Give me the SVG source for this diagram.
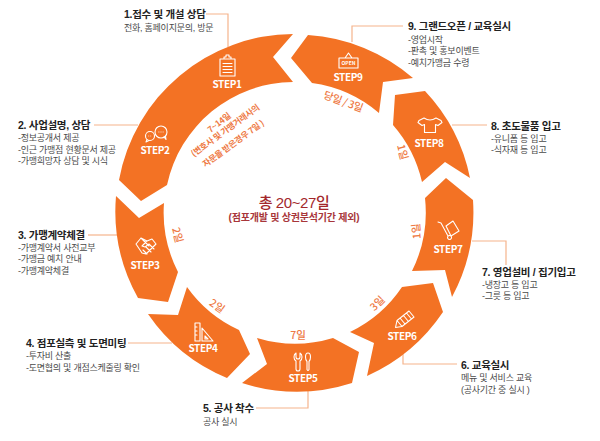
<svg xmlns="http://www.w3.org/2000/svg" width="600" height="441" viewBox="0 0 600 441">
<style>
text{font-family:"Noto Sans CJK KR","Noto Sans",sans-serif}
.seg{fill:#f37224}
.lead{fill:none;stroke:#f6b48c;stroke-width:1.2}
.t{font-family:"Liberation Sans","Noto Sans CJK KR",sans-serif;font-size:10.500px;font-weight:700;fill:#222;letter-spacing:-.3px}
.s{font-family:"Liberation Sans","Noto Sans CJK KR",sans-serif;font-size:9px;fill:#4a4a4a;letter-spacing:-.25px}
.st{font-size:10px;font-weight:700;fill:#fff;text-anchor:middle;letter-spacing:-.4px}
.d{font-size:10.500px;font-weight:500;fill:#ee7a45;text-anchor:middle}
.n{font-size:8.500px;font-weight:700;fill:#ee7a45;text-anchor:middle;letter-spacing:-.25px}
.i{fill:none;stroke:#fff;stroke-width:1.1;stroke-linejoin:round;stroke-linecap:round}
.c{font-family:"Liberation Sans","Noto Sans CJK KR",sans-serif;text-anchor:middle}
</style>
<rect width="600" height="441" fill="#fff"/>
<g id="connectors">
<path class="lead" d="M206 14H228V47"/>
<path class="lead" d="M403 26H352V42"/>
<path class="lead" d="M452 125H487"/>
<path class="lead" d="M472 241H506V265"/>
<path class="lead" d="M403 354V364H457"/>
<path class="lead" d="M308 391V408H256"/>
<path class="lead" d="M128 343H172"/>
<path class="lead" d="M88 235H117"/>
<path class="lead" d="M94 125H138"/>
</g>
<g id="node-step1-2">
<path class="seg" d="M293 34A178 178 0 0 0 119 180L141 201L167 185A130 130 0 0 1 293 82L273 57Z"/>
<g id="step1">
<path class="i" d="M220 59h15v17h-15zM224 59v-2h2v-2h3v2h2v2M223 63.500h9M223 66.500h9M223 69.500h9M223 72.500h9"/>
<text class="st" x="227" y="88">STEP1</text>
<text class="t" x="124" y="18">1.접수 및 개설 상담</text>
<text class="s" x="124" y="31">전화, 홈페이지문의, 방문</text>
</g>
<g id="step2">
<circle class="i" cx="150" cy="136" r="4.500"/>
<path class="i" d="M147 139.500l-1 2.500 3-1.500"/>
<circle class="i" cx="161" cy="132" r="6"/>
<path class="i" d="M164 137l2 2.500-.5-3.500"/>
<path d="M158.500 132h.8M160.600 132h.8M162.700 132h.8M148.500 136h.6M150.500 136h.6" stroke="#fff" stroke-width="1.200" fill="none"/>
<text class="st" x="155" y="154">STEP2</text>
<text class="t" x="18" y="129">2. 사업설명, 상담</text>
<text class="s" x="18" y="141">-정보공개서 제공</text>
<text class="s" x="18" y="153">-인근 가맹점 현황문서 제공</text>
<text class="s" x="18" y="164">-가맹희망자 상담 및 시식</text>
</g>
</g>
<g id="step3">
<path class="seg" d="M116 196A178 178 0 0 0 138 298L168 302L178 272A130 130 0 0 1 164 203L139 218Z"/>
<path class="i" d="M136 244l5-6 6 3 5-2 4 5-10 10-4-1-6-9zM141 238l8 8M147 241l-5 5 3 1 4-3 5 5M146 247l5 5M143 250l4 4"/>
<text class="st" x="145" y="269">STEP3</text>
<text class="t" x="18" y="239">3. 가맹계약체결</text>
<text class="s" x="18" y="251">-가맹계약서 사전교부</text>
<text class="s" x="18" y="262">-가맹금 예치 안내</text>
<text class="s" x="18" y="274">-가맹계약체결</text>
</g>
<g id="step4">
<path class="seg" d="M148 314L178 315L187 287A130 130 0 0 0 239 330L250 354L227 378A178 178 0 0 1 148 314Z"/>
<path class="i" d="M195 323h5v18h-5zM195 327h2M195 331h2M195 335h2M202 328l11 13h-11zM205 336v3h3z"/>
<text class="st" x="203" y="352">STEP4</text>
<text class="t" x="26" y="347">4. 점포실측 및 도면미팅</text>
<text class="s" x="26" y="359">-투자비 산출</text>
<text class="s" x="26" y="371">-도면협의 및 개점스케줄링 확인</text>
</g>
<g id="step5">
<path class="seg" d="M257 338A130 130 0 0 0 333 338L359 352L352 383A180 180 0 0 1 242 383L267 364Z"/>
<path class="i" d="M296 353v4q0 2 2 2 2 0 2-2v-4q2 1 2 4 0 3-2 4v8q0 2-2 2-2 0-2-2v-8q-2-1-2-4 0-3 2-4zM308 353q2.500 0 2.500 4 0 3-1.500 4.500v8q-1 2-2 0v-8q-1.500-1.500-1.500-4.500 0-4 2.500-4z"/>
<text class="st" x="303" y="382">STEP5</text>
<text class="t" x="203" y="412">5. 공사 착수</text>
<text class="s" x="203" y="425">공사 실시</text>
</g>
<g id="step6">
<path class="seg" d="M350 332L374 343L367 376A180 180 0 0 0 443 312L433 283L402 287A131 131 0 0 1 350 332Z"/>
<path class="i" d="M395.500 327.500l1.500-7 12-9.500 5 6-12 9.500zM397 320.500l5 6M400 318l5 6M403.500 315.500l5 6M406.500 313l5 6"/>
<text class="st" x="402" y="340">STEP6</text>
<text class="t" x="461" y="369">6. 교육실시</text>
<text class="s" x="461" y="381">메뉴 및 서비스 교육</text>
<text class="s" x="461" y="393">(공사기간 중 실시 )</text>
</g>
<g id="step7">
<path class="seg" d="M425 198L446 178L473 200A179 179 0 0 1 452 297L445 270L412 271A132 132 0 0 0 425 198Z"/>
<path class="i" d="M438 222l3 1 7 13M446 226l7-5 6 10-8 5zM449.500 235.500a2 2 0 1 0 .1 0"/>
<text class="st" x="448" y="253">STEP7</text>
<text class="t" x="482" y="276">7. 영업설비 / 집기입고</text>
<text class="s" x="482" y="288">-냉장고 등 입고</text>
<text class="s" x="482" y="299">-그릇 등 입고</text>
</g>
<g id="step8">
<path class="seg" d="M395 95L425 91A178 178 0 0 1 470 178L445 162L422 182A131 131 0 0 0 393 125Z"/>
<path class="i" d="M424 118l-5 2.500-1 2 4 3 2.500-1v8h11v-8l2.500 1 4-3-1-2-5-2.500q-6 4-12 0z"/>
<text class="st" x="429" y="147">STEP8</text>
<text class="t" x="491" y="130">8. 초도물품 입고</text>
<text class="s" x="491" y="142">-유니폼 등 입고</text>
<text class="s" x="491" y="153">-식자재 등 입고</text>
</g>
<g id="step9">
<path class="seg" d="M308 35A178 178 0 0 1 413 78L383 82L379 113A130 130 0 0 0 312 83L291 58Z"/>
<path class="i" d="M339 58h19v10h-19zM345 58l3.500-5 3.500 5"/>
<text x="348.500" y="65" font-size="5" font-weight="700" fill="#fff" text-anchor="middle">OPEN</text>
<text class="st" x="348" y="81">STEP9</text>
<text class="t" x="408" y="30">9. 그랜드오픈 / 교육실시</text>
<text class="s" x="408" y="43">-영업시작</text>
<text class="s" x="408" y="54">-판촉 및 홍보이벤트</text>
<text class="s" x="408" y="66">-예치가맹금 수령</text>
</g>
<g id="durations">
<text class="d" transform="translate(342 105) rotate(20)" letter-spacing="-.4">당일 / 3일</text>
<text class="d" transform="translate(399 153) rotate(75)">1일</text>
<text class="d" transform="translate(420 231) rotate(-95)">1일</text>
<text class="d" transform="translate(380 306) rotate(-45)">3일</text>
<text class="d" x="298" y="339">7일</text>
<text class="d" transform="translate(215 309) rotate(35)">2일</text>
<text class="d" transform="translate(174 236) rotate(75)">2일</text>
<text class="n" transform="translate(221 125) rotate(-38)">7~14일</text>
<text class="n" transform="translate(227 133) rotate(-36)">(변호사 및 가맹거래사의</text>
<text class="n" transform="translate(235 146) rotate(-36)">자문을 받은경우 7일 )</text>
</g>
<g id="total">
<text class="c" x="294" y="208" font-size="15" font-weight="500" fill="#a3282c" letter-spacing="-.4">총 20~27일</text>
<text class="c" x="294" y="221" font-size="10" font-weight="700" fill="#a8363a" letter-spacing="-.2">(점포개발 및 상권분석기간 제외)</text>
</g>
</svg>
